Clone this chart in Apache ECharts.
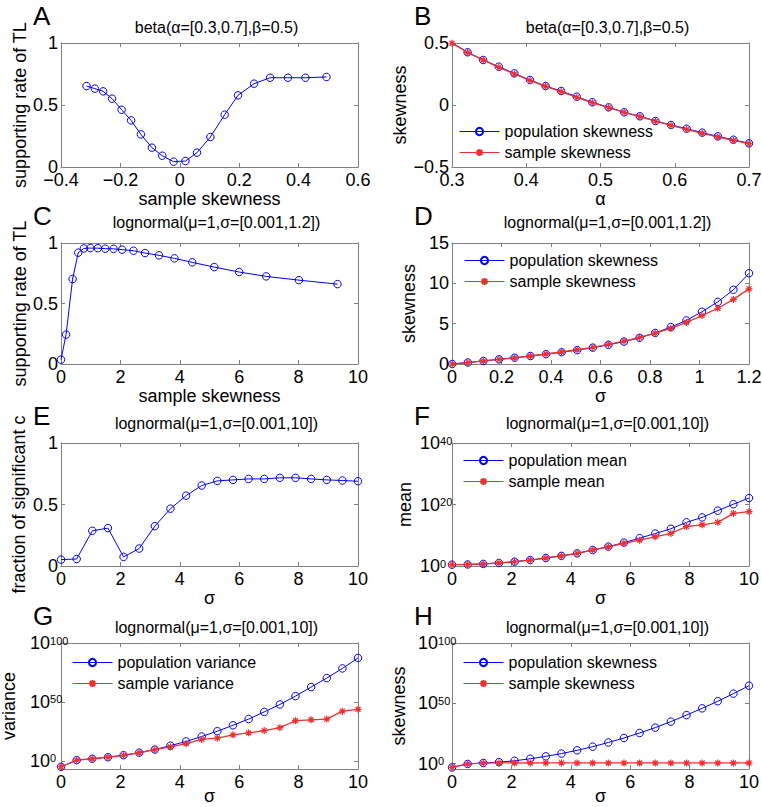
<!DOCTYPE html>
<html><head><meta charset="utf-8">
<script src="https://cdn.jsdelivr.net/npm/echarts@6/dist/echarts.min.js"></script>
<style>html,body{margin:0;padding:0;background:#fff}#c{width:762px;height:807px}</style>
</head><body><div id="c"></div>
<script>
// ---------- DATA ----------
// Panel A: beta, x = sample skewness, y = supporting rate of TL
const A_sampleSkew = [-0.314,-0.286,-0.258,-0.228,-0.196,-0.164,-0.131,-0.094,-0.059,-0.021,0.019,0.058,0.103,0.151,0.196,0.250,0.304,0.364,0.423,0.494];
const A_supportRate = [0.653,0.632,0.610,0.551,0.462,0.376,0.263,0.156,0.091,0.043,0.048,0.116,0.242,0.422,0.578,0.672,0.720,0.720,0.720,0.726];
// Panel B: skewness vs alpha
const B_alpha = [0.300,0.321,0.342,0.363,0.384,0.405,0.426,0.447,0.468,0.489,0.511,0.532,0.553,0.574,0.595,0.616,0.637,0.658,0.679,0.700];
const B_popSkew = [0.503,0.425,0.363,0.309,0.255,0.202,0.153,0.113,0.067,0.022,-0.019,-0.059,-0.091,-0.129,-0.161,-0.191,-0.223,-0.253,-0.280,-0.309];
const B_sampleSkew = [0.498,0.423,0.364,0.304,0.250,0.198,0.151,0.108,0.062,0.019,-0.021,-0.059,-0.094,-0.131,-0.164,-0.196,-0.228,-0.258,-0.286,-0.312];
// Panel C: lognormal sigma in [0.001,1.2]
const C_sampleSkew = [0.00,0.17,0.39,0.58,0.77,0.99,1.24,1.49,1.77,2.06,2.44,2.83,3.30,3.82,4.42,5.16,6.00,6.91,8.01,9.31];
const C_supportRate = [0.036,0.243,0.702,0.920,0.955,0.958,0.957,0.953,0.952,0.945,0.936,0.917,0.898,0.873,0.840,0.801,0.760,0.724,0.693,0.660];
// Panel D
const D_sigma = [0.001,0.064,0.127,0.190,0.253,0.317,0.380,0.443,0.506,0.569,0.632,0.695,0.758,0.821,0.884,0.947,1.010,1.074,1.137,1.200];
const D_popSkew = [0.00,0.19,0.38,0.58,0.78,0.99,1.22,1.46,1.72,2.03,2.38,2.78,3.25,3.85,4.58,5.40,6.48,7.70,9.20,11.25];
const D_sampleSkew = [0.00,0.17,0.39,0.58,0.77,0.99,1.24,1.49,1.77,2.06,2.44,2.83,3.30,3.82,4.42,5.16,6.00,6.91,8.01,9.31];
// Panels E-H: sigma in [0.001,10]
const sigma10 = [0.001,0.527,1.054,1.580,2.106,2.633,3.159,3.685,4.212,4.738,5.264,5.790,6.317,6.843,7.369,7.896,8.422,8.948,9.475,10.000];
const E_fraction = [0.052,0.057,0.286,0.308,0.074,0.142,0.324,0.466,0.572,0.654,0.692,0.700,0.708,0.708,0.717,0.717,0.708,0.700,0.695,0.689];
// log10 of the plotted values (F, G, H use logarithmic y axes)
const F_popMeanLog10 = [0.43,0.50,0.68,0.98,1.40,1.94,2.60,3.30,4.10,5.20,6.30,7.60,9.05,10.56,12.10,14.20,15.80,18.00,20.10,22.10];
const F_sampleMeanLog10 = [0.43,0.50,0.68,0.98,1.40,1.94,2.60,3.30,4.10,5.20,6.20,7.40,8.40,9.50,10.60,12.85,13.40,14.20,17.10,17.70];
const G_popVarLog10 = [-5.1,0.5,1.7,3.0,4.7,6.9,9.5,12.8,16.4,20.6,25.1,30.1,35.4,41.5,47.8,54.9,62.6,70.2,78.4,87.3];
const G_sampleVarLog10 = [-5.1,0.5,1.7,3.0,4.6,6.8,9.4,11.7,14.5,18.1,19.2,22.0,23.7,25.6,28.1,34.0,34.8,35.4,42.1,43.7];
const H_popSkewLog10 = [-3.2,-0.3,0.5,1.2,2.3,4.0,6.0,8.3,11.0,14.0,17.5,21.2,25.4,29.8,34.8,40.2,45.8,51.7,58.0,64.6];
const H_sampleSkewLog10 = [-3.2,-0.3,0.4,0.5,0.5,0.48,0.5,0.52,0.5,0.5,0.5,0.5,0.5,0.5,0.5,0.5,0.5,0.5,0.5,0.5];
// tick values
const A_xTicks = [-0.4,-0.2,0,0.2,0.4,0.6];
const B_xTicks = [0.3,0.4,0.5,0.6,0.7];
const B_yTicks = [-0.5,0,0.5];
const rate_yTicks = [0,0.5,1];
const sigma10_xTicks = [0,2,4,6,8,10];
const D_xTicks = [0,0.2,0.4,0.6,0.8,1,1.2];
const D_yTicks = [0,5,10,15];
const F_yTicksLog10 = [0,20,40];
const GH_yTicksLog10 = [0,50,100];
// titles / names
const titleBeta = 'beta(α=[0.3,0.7],β=0.5)';
const titleLogn12 = 'lognormal(μ=1,σ=[0.001,1.2])';
const titleLogn10 = 'lognormal(μ=1,σ=[0.001,10])';

// ---------- STYLE / LAYOUT ----------
const FONT = '"Liberation Sans", Arial, Helvetica, sans-serif';
const GRAY = '#808080';
const BLUE = '#0000ff';
const RED = '#f03030';
const STAR = 'path://M3.5,0L3.5,7M0,3.5L7,3.5M1,1L6,6M1,6L6,1';
const cols = [61, 452];
const W = 297;
const rows = [[43,124],[243,121],[443,123],[643,126]];
const titleDy = [-16,-21,-20,-16];
const xNameGap = [22,22,22,20];

const panels = [
  {L:'A',c:0,r:0,title:titleBeta,xName:'sample skewness',yName:'supporting rate of TL',xT:A_xTicks,yT:rate_yTicks,yGap:26,
   s:[{n:'A rate',x:A_sampleSkew,y:A_supportRate,k:'pop'}]},
  {L:'B',c:1,r:0,title:titleBeta,xName:'α',yName:'skewness',xT:B_xTicks,yT:B_yTicks,yGap:43,
   s:[{n:'population skewness',x:B_alpha,y:B_popSkew,k:'pop'},{n:'sample skewness',x:B_alpha,y:B_sampleSkew,k:'smp'}],
   leg:[459,122.5]},
  {L:'C',c:0,r:1,title:titleLogn12,xName:'sample skewness',yName:'supporting rate of TL',xT:sigma10_xTicks,yT:rate_yTicks,yGap:26,
   s:[{n:'C rate',x:C_sampleSkew,y:C_supportRate,k:'pop'}]},
  {L:'D',c:1,r:1,title:titleLogn12,xName:'σ',yName:'skewness',xT:D_xTicks,yT:D_yTicks,yGap:34,
   s:[{n:'population skewness',x:D_sigma,y:D_popSkew,k:'pop'},{n:'sample skewness',x:D_sigma,y:D_sampleSkew,k:'smp'}],
   leg:[464,251.5]},
  {L:'E',c:0,r:2,title:titleLogn10,xName:'σ',yName:'fraction of significant c',xT:sigma10_xTicks,yT:rate_yTicks,yGap:33,
   s:[{n:'E fraction',x:sigma10,y:E_fraction,k:'pop'}]},
  {L:'F',c:1,r:2,title:titleLogn10,xName:'σ',yName:'mean',xT:sigma10_xTicks,yT:F_yTicksLog10,yGap:38,log:true,lm:32,
   s:[{n:'population mean',x:sigma10,y:F_popMeanLog10,k:'pop'},{n:'sample mean',x:sigma10,y:F_sampleMeanLog10,k:'smp'}],
   leg:[463,451.5]},
  {L:'G',c:0,r:3,title:titleLogn10,xName:'σ',yName:'variance',xT:sigma10_xTicks,yT:GH_yTicksLog10,yMin:-7,yGap:43,log:true,lm:31,
   s:[{n:'population variance',x:sigma10,y:G_popVarLog10,k:'pop'},{n:'sample variance',x:sigma10,y:G_sampleVarLog10,k:'smp'}],
   leg:[72,653.5]},
  {L:'H',c:1,r:3,title:titleLogn10,xName:'σ',yName:'skewness',xT:sigma10_xTicks,yT:GH_yTicksLog10,yMin:-4.5,yGap:44,log:true,lm:34,
   s:[{n:'population skewness',x:sigma10,y:H_popSkewLog10,k:'pop'},{n:'sample skewness',x:sigma10,y:H_sampleSkewLog10,k:'smp'}],
   leg:[463,653.5]}
];

const fmt = v => String(+v.toFixed(6)).replace('-', '\u2212');
const grid = [], xAxis = [], yAxis = [], series = [], legend = [], graphic = [];
const lineAx = {show:true, onZero:false, lineStyle:{color:GRAY, width:1}};
const tickAx = vals => ({show:true, inside:true, length:4, lineStyle:{color:GRAY, width:1}, customValues: vals});

panels.forEach((p, i) => {
  const left = cols[p.c], top = rows[p.r][0], h = rows[p.r][1];
  grid.push({left, top, width: W, height: h, containLabel:false, outerBoundsMode:'none', show:false});
  const xmin = p.xT[0], xmax = p.xT[p.xT.length-1];
  const ymin = p.yMin !== undefined ? p.yMin : p.yT[0], ymax = p.yT[p.yT.length-1];
  const xi = xAxis.length, yi = yAxis.length;
  xAxis.push({type:'value', gridIndex:i, position:'bottom', min:xmin, max:xmax,
    axisLine:lineAx, axisTick:tickAx(p.xT), splitLine:{show:false},
    axisLabel:{show:true, customValues:p.xT, formatter:fmt, color:'#000', fontSize:18, lineHeight:14, fontFamily:FONT, margin:6},
    name:p.xName, nameLocation:'middle', nameGap:xNameGap[p.r], nameMoveOverlap: p.r !== 3,
    nameTextStyle:{color:'#000', fontSize:18, lineHeight:14, fontFamily:FONT}});
  xAxis.push({type:'value', gridIndex:i, position:'top', min:xmin, max:xmax,
    axisLine:lineAx, axisTick:tickAx(p.xT), splitLine:{show:false}, axisLabel:{show:false}});
  let yLabel;
  if (p.log) {
    yLabel = {show:true, customValues:p.yT, margin:p.lm, align:'left',
      formatter: v => '{b|10}{s|' + v + '}',
      rich:{b:{fontSize:18, fontFamily:FONT, color:'#000', lineHeight:16, verticalAlign:'middle'},
            s:{fontSize:11, fontFamily:FONT, color:'#000', lineHeight:8, verticalAlign:'top'}}};
  } else {
    yLabel = {show:true, customValues:p.yT, formatter:fmt, color:'#000', fontSize:18, lineHeight:14, fontFamily:FONT, margin:3};
  }
  yAxis.push({type:'value', gridIndex:i, position:'left', min:ymin, max:ymax,
    axisLine:lineAx, axisTick:tickAx(p.yT), splitLine:{show:false}, axisLabel:yLabel,
    name:p.yName, nameLocation:'middle', nameGap:p.yGap, nameRotate:90,
    nameTextStyle:{color:'#000', fontSize:18, fontFamily:FONT}});
  yAxis.push({type:'value', gridIndex:i, position:'right', min:ymin, max:ymax,
    axisLine:lineAx, axisTick:tickAx(p.yT), splitLine:{show:false}, axisLabel:{show:false}});
  p.s.forEach(s => {
    const pop = s.k === 'pop';
    series.push({type:'line', name:s.n, xAxisIndex:xi, yAxisIndex:yi,
      data: s.x.map((v, j) => [v, s.y[j]]),
      symbol: pop ? 'circle' : STAR, symbolSize: pop ? 7.5 : 7, showAllSymbol:true,
      lineStyle:{color: pop ? BLUE : RED, width: pop ? 1 : 1.3},
      itemStyle: pop ? {color:'rgba(0,0,0,0)', borderColor:BLUE, borderWidth:1}
                     : {color:RED, borderColor:RED, borderWidth:1.2},
      emphasis:{disabled:true}, silent:true, animation:false, z: pop ? 2 : 3});
  });
  if (p.leg) {
    legend.push({orient:'vertical', left:p.leg[0], top:p.leg[1], padding:0, itemGap:3,
      itemWidth:40, itemHeight:9, selectedMode:false,
      lineStyle:{width:1},
      data:p.s.map(s => s.n),
      textStyle:{color:'#000', fontSize:16, fontFamily:FONT, lineHeight:18}});
  }
  graphic.push({type:'text', x: p.c === 0 ? 33 : 414, y: top - 27,
    style:{text:p.L, font:'26px ' + FONT, fill:'#000', align:'left', verticalAlign:'middle'}});
  graphic.push({type:'text', x: left + W/2 + 7, y: top + titleDy[p.r],
    style:{text:p.title, font:'16px ' + FONT, fill:'#000', align:'center', verticalAlign:'middle'}});
});

const chart = echarts.init(document.getElementById('c'), null, {renderer:'svg', width:762, height:807});
chart.setOption({animation:false, backgroundColor:'#fff', grid, xAxis, yAxis, series, legend, graphic});
</script></body></html>
